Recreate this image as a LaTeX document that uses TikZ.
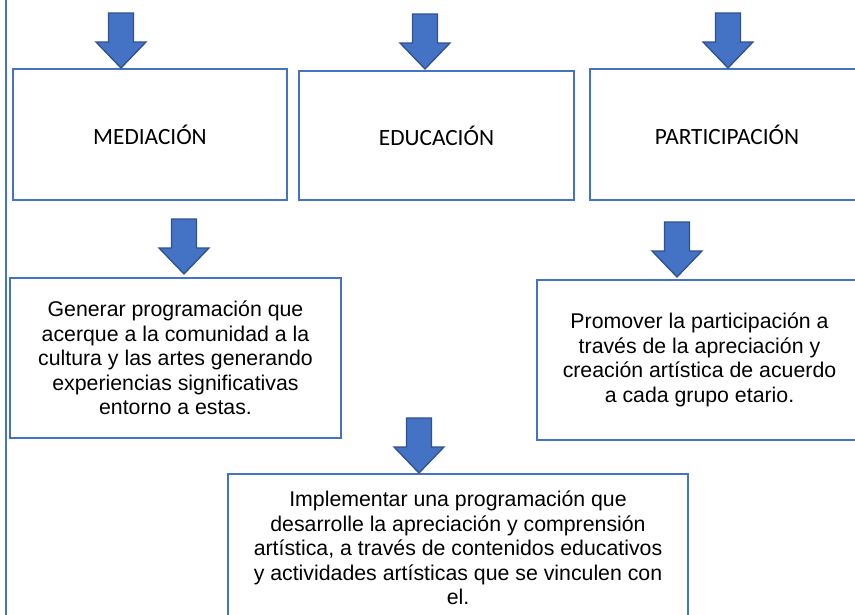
\documentclass[tikz,border=0pt]{standalone}
\usepackage{fontspec}
\setmainfont{Liberation Sans}
\newfontfamily\calibri{Carlito}
\definecolor{boxblue}{HTML}{4472C4}
\definecolor{arrowfill}{HTML}{4472C4}
\definecolor{arrowedge}{HTML}{2F528F}
\tikzset{
  topbox/.style={draw=boxblue, line width=2pt, inner sep=0pt, align=center,
    font=\calibri\fontsize{23.3}{28}\selectfont},
  textbox/.style={draw=boxblue, line width=2pt, inner sep=0pt, align=center,
    font=\fontsize{21.3}{24.5}\selectfont},
  blockarrow/.pic={
    \draw[fill=arrowfill, draw=arrowedge, line width=1.3pt, line join=miter]
      (0,0) -- (-25,-26) -- (-12.5,-26) -- (-12.5,-55) -- (12.5,-55)
      -- (12.5,-26) -- (25,-26) -- cycle;
  }
}
\begin{document}
\begin{tikzpicture}[x=1pt,y=-1pt]
\useasboundingbox (0,0) rectangle (855,614);
\clip (0,0) rectangle (855,614);

% left edge line
\coordinate (lt) at (6,-5);
\coordinate (lb) at (6,620);
\draw[boxblue, line width=2pt] (lt) -- (lb);

% top row
\node[topbox, minimum width=274pt, minimum height=131pt] (m) at (150,134.5) {MEDIACIÓN};
\node[topbox, minimum width=275pt, minimum height=129pt] (e) at (436.5,135.5) {\raisebox{-3pt}{EDUCACIÓN}};
\node[topbox, minimum width=274pt, minimum height=131pt] (p) at (727,134.5) {PARTICIPACIÓN};

% middle row
\node[textbox, minimum width=331pt, minimum height=160pt] (g) at (175.5,358)
  {Generar programación que\\acerque a la comunidad a la\\cultura y las artes generando\\experiencias significativas\\entorno a estas.};
\node[textbox, minimum width=325pt, minimum height=160pt] (pr) at (699.5,360)
  {Promover la participación a\\través de la apreciación y\\creación artística de acuerdo\\a cada grupo etario.};

% bottom
\node[textbox, minimum width=460pt, minimum height=148pt] (i) at (458,548)
  {Implementar una programación que\\desarrolle la apreciación y comprensión\\artística, a través de contenidos educativos\\y actividades artísticas que se vinculen con\\el.};

% block arrows
\pic (a1) at ([xshift=-29pt]m.north) {blockarrow};
\pic (a2) at ([xshift=-11.5pt,yshift=1pt]e.north) {blockarrow};
\pic (a3) at ([xshift=1pt]p.north) {blockarrow};
\pic (a4) at ([xshift=8.5pt,yshift=3pt]g.north) {blockarrow};
\pic (a5) at ([xshift=-22.5pt,yshift=2pt]pr.north) {blockarrow};
\pic (a6) at ([xshift=-39pt]i.north) {blockarrow};
\end{tikzpicture}
\end{document}
